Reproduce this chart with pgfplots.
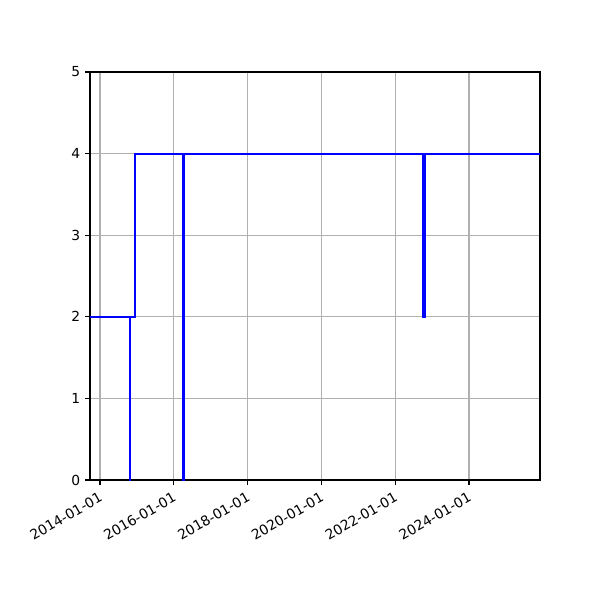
\documentclass[border=0pt]{standalone}
\usepackage{fontspec}
\setmainfont{DejaVu Sans}
\usepackage{pgfplots}
\pgfplotsset{compat=1.18}
\definecolor{gridgray}{HTML}{B0B0B0}
\begin{document}
\begin{tikzpicture}[x=1pt,y=1pt]
% 1px = 0.7227pt; canvas 600x600 px
\path[use as bounding box] (-65.04,-86.72) rectangle (368.58,346.90);
\begin{axis}[
    at={(0,0)}, anchor=south west,
    scale only axis,
    width=325.2pt, height=294.9pt,
    xmin=2013.729, xmax=2025.924,
    ymin=0, ymax=5,
    xtick={2014,2016,2018,2020,2022,2024},
    xticklabels={2014-01-01,2016-01-01,2018-01-01,2020-01-01,2022-01-01,2024-01-01},
    ytick={0,1,2,3,4,5},
    xticklabel style={rotate=30, anchor=north east, font=\fontsize{10}{12}\selectfont},
    yticklabel style={font=\fontsize{10}{12}\selectfont},
    /pgf/number format/assume math mode=true,
    tick align=outside,
    major tick length=3.5pt,
    tick style={black, line width=0.8pt},
    xtick pos=bottom, ytick pos=left,
    grid=major,
    major grid style={gridgray, line width=0.8pt},
    axis line style={black, line width=0.8pt},
    axis on top=false,
]
\addplot[const plot, blue, line width=1.45pt] coordinates {
  (2013.729, 2)
  (2014.818, 0)
  (2014.822, 2)
  (2014.940, 4)
  (2016.243, 0)
  (2016.270, 4)
  (2022.745, 2)
  (2022.800, 4)
  (2025.924, 4)
};
\end{axis}
\end{tikzpicture}
\end{document}
